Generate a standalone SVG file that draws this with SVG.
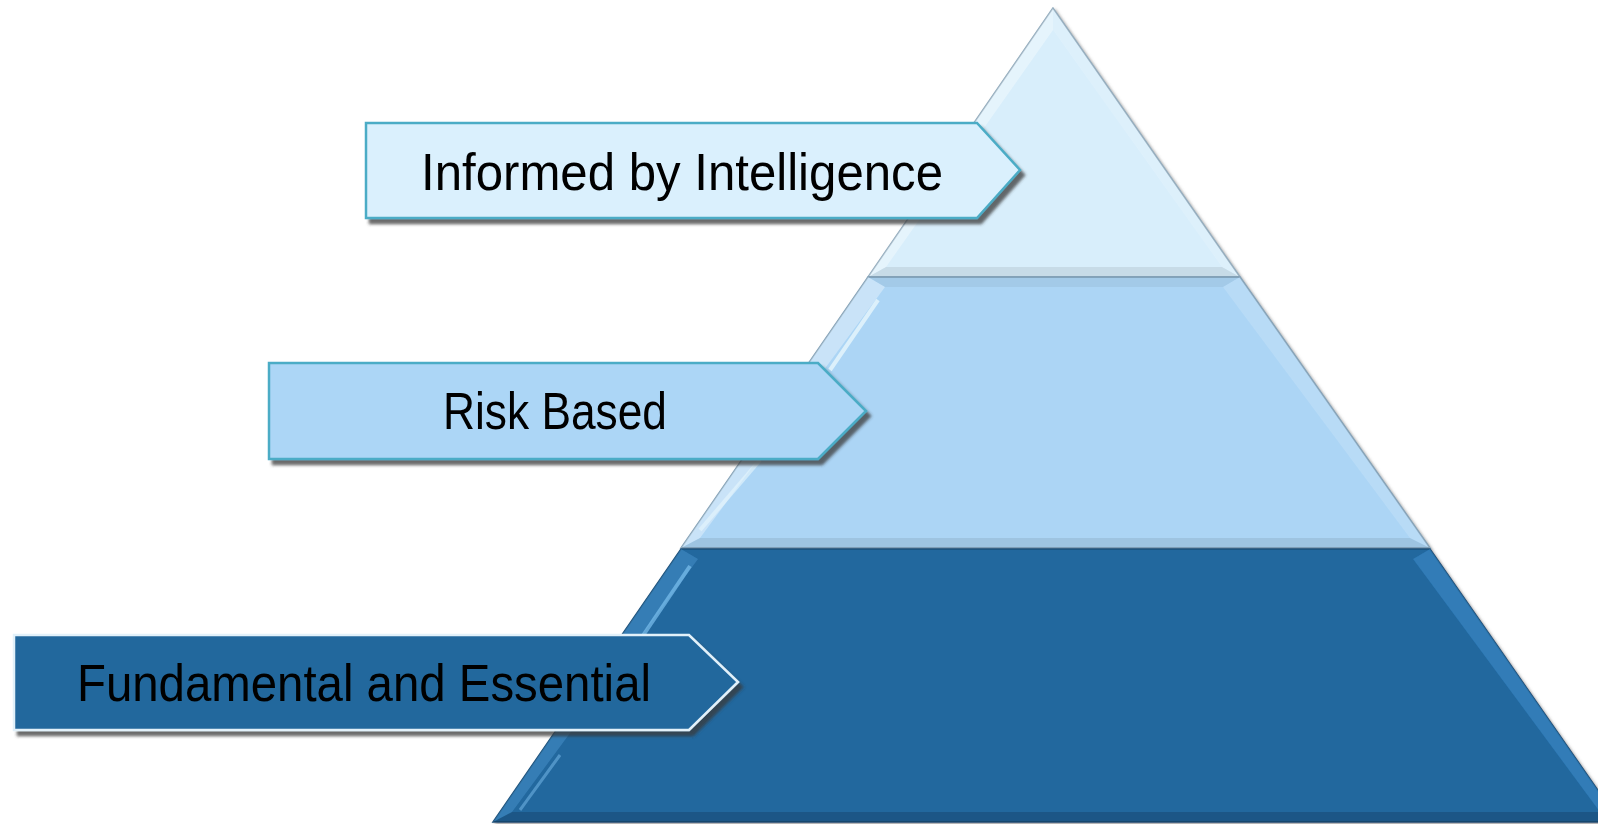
<svg xmlns="http://www.w3.org/2000/svg" width="1598" height="824" viewBox="0 0 1598 824">
<defs>
<filter id="sh" x="-10%" y="-20%" width="130%" height="150%">
<feDropShadow dx="4" dy="5" stdDeviation="1.5" flood-color="#3a3a3a" flood-opacity="0.75"/>
</filter>
<filter id="psh" x="-5%" y="-5%" width="110%" height="110%">
<feDropShadow dx="2" dy="2" stdDeviation="1.5" flood-color="#666" flood-opacity="0.6"/>
</filter>
</defs>
<style>
.lbl{font-family:"Liberation Sans",Arial,sans-serif;font-size:52px;fill:#000;text-anchor:middle}
.hl{fill:#ffffff;opacity:0.35}
.dk{fill:#000000;opacity:0.08}
.rt{fill:#ffffff;opacity:0.15}
</style>
<rect width="1598" height="824" fill="#ffffff"/>

<g id="pyramid" filter="url(#psh)">
<g id="layer-top">
<polygon points="1053,8 868,277 1240,277" fill="#d8eefb" stroke="#8fa9bb" stroke-width="1.5"/>
<polygon class="hl" points="1053,8 868,277 886,267 1053,30"/>
<polygon class="rt" points="1053,8 1240,277 1222,267 1053,30"/>
<polygon class="dk" points="868,277 1240,277 1222,267 886,267"/>
</g>
<g id="layer-middle">
<polygon points="868,277 1240,277 1430,548 681,548" fill="#acd5f5" stroke="#7f9fb6" stroke-width="1.5"/>
<polygon class="hl" points="868,277 681,548 700,538 885,287"/>
<polygon class="rt" points="1240,277 1430,548 1410,538 1223,287"/>
<polygon class="dk" points="681,548 1430,548 1410,538 700,538"/>
<polygon class="dk" points="868,277 1240,277 1223,287 885,287" style="opacity:0.05"/>
<line x1="878" y1="300" x2="830" y2="370" stroke="#e8f7fd" stroke-width="4" opacity="0.8"/>
<line x1="760" y1="460" x2="700" y2="530" stroke="#e8f7fd" stroke-width="4" opacity="0.6"/>
</g>
<g id="layer-bottom">
<polygon points="681,549 1430,549 1620,822 493,822" fill="#22679e" stroke="#1b4f78" stroke-width="1.5"/>
<polygon fill="#5aa6e0" opacity="0.35" points="681,549 493,822 512,812 698,559"/>
<polygon fill="#3d8fd0" opacity="0.5" points="1430,549 1620,822 1600,812 1413,559"/>
<polygon class="dk" points="493,822 1620,822 1600,812 512,812" style="opacity:0.15"/>
<line x1="690" y1="566" x2="640" y2="640" stroke="#7cc0ee" stroke-width="4" opacity="0.7"/>
<line x1="560" y1="755" x2="520" y2="810" stroke="#7cc0ee" stroke-width="3" opacity="0.5"/>
</g>
</g>

<g id="connectors"></g>

<g id="label-top">
<polygon points="366,123 977,123 1020,170 977,218 366,218" fill="#daf0fd" stroke="#4bacc6" stroke-width="2.5" filter="url(#sh)"/>
<text class="lbl" x="682" y="190" textLength="522" lengthAdjust="spacingAndGlyphs">Informed by Intelligence</text>
</g>
<g id="label-middle">
<polygon points="269,363 818,363 866,411 818,459 269,459" fill="#acd6f6" stroke="#4bacc6" stroke-width="2.5" filter="url(#sh)"/>
<text class="lbl" x="555" y="429" textLength="224" lengthAdjust="spacingAndGlyphs">Risk Based</text>
</g>
<g id="label-bottom">
<polygon points="14,635 689,635 738,682 689,730 14,730" fill="#22679d" stroke="#e2f1fa" stroke-width="2.5" filter="url(#sh)"/>
<text class="lbl" x="364" y="701" textLength="574" lengthAdjust="spacingAndGlyphs">Fundamental and Essential</text>
</g>
</svg>
